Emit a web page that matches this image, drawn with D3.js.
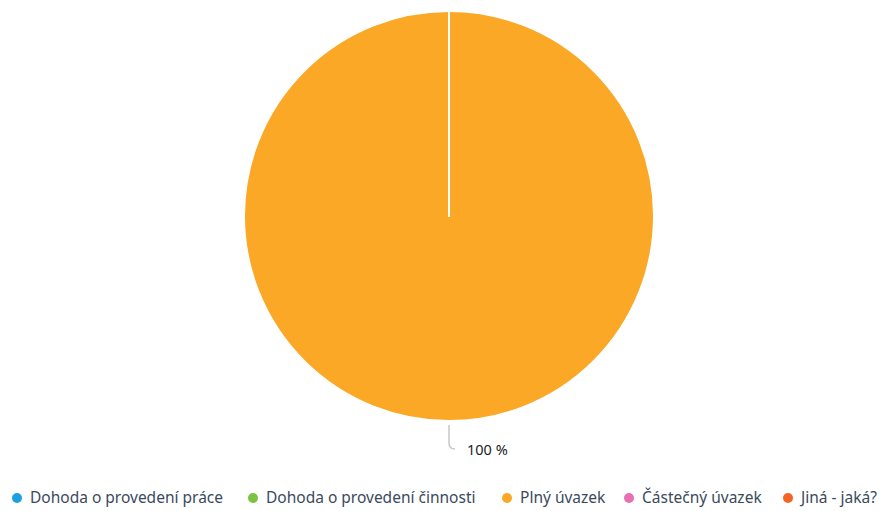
<!DOCTYPE html>
<html>
<head>
<meta charset="utf-8">
<script src="https://cdn.jsdelivr.net/npm/d3@7"></script>
<style>
  html, body { margin: 0; padding: 0; background: #fff; }
  svg { display: block; font-family: "Noto Sans", "Open Sans", sans-serif; }
</style>
</head>
<body>
<svg id="chart" width="884" height="511"></svg>
<script>
// Typ pracovního úvazku – podíl odpovědí
const categories = ["Dohoda o provedení práce", "Dohoda o provedení činnosti", "Plný úvazek", "Částečný úvazek", "Jiná - jaká?"];
const values = [0, 0, 100, 0, 0];
const colors = ["#1ba1e2", "#7dc242", "#faa825", "#e76fb3", "#f26522"];
const legendX = [17, 253, 507, 629, 788];

const svg = d3.select("#chart");
const cx = 449, cy = 216, r = 205;

const data = categories.map((c, i) => ({ name: c, value: values[i], color: colors[i] }));
const pie = d3.pie().value(d => d.value).sort(null);
const arcs = pie(data);
const arc = d3.arc().innerRadius(0).outerRadius(r);

const g = svg.append("g").attr("transform", `translate(${cx},${cy})`);
g.selectAll("path")
  .data(arcs)
  .join("path")
  .attr("d", arc)
  .attr("fill", d => d.data.color)
  .attr("stroke", "#fff")
  .attr("stroke-width", 2)
  .attr("stroke-linejoin", "round");

// Popisek hodnoty s vodicí čarou
const total = d3.sum(values);
arcs.filter(d => d.value > 0).forEach(d => {
  const mid = (d.startAngle + d.endAngle) / 2;
  const px = Math.sin(mid) * r, py = -Math.cos(mid) * r;
  const path = d3.path();
  path.moveTo(px, py + 4);
  path.lineTo(px, py + 22);
  path.quadraticCurveTo(px, py + 28, px + 6, py + 28);
  g.append("path")
    .attr("d", path.toString())
    .attr("fill", "none")
    .attr("stroke", "#c8c8c8")
    .attr("stroke-width", 1.5);
  g.append("text")
    .attr("x", px + 18)
    .attr("y", py + 34)
    .attr("font-size", 14.5)
    .attr("fill", "#222")
    .text(Math.round(d.value / total * 100) + " %");
});

// Legenda
const legend = svg.append("g").attr("transform", "translate(0,498)");
const items = legend.selectAll("g")
  .data(data)
  .join("g")
  .attr("transform", (d, i) => `translate(${legendX[i]},0)`);
items.append("circle").attr("r", 5).attr("fill", d => d.color);
items.append("text")
  .attr("x", 13)
  .attr("dy", "0.35em")
  .attr("font-size", 15.5)
  .attr("fill", "#3b4a5e")
  .text(d => d.name);
</script>
</body>
</html>
